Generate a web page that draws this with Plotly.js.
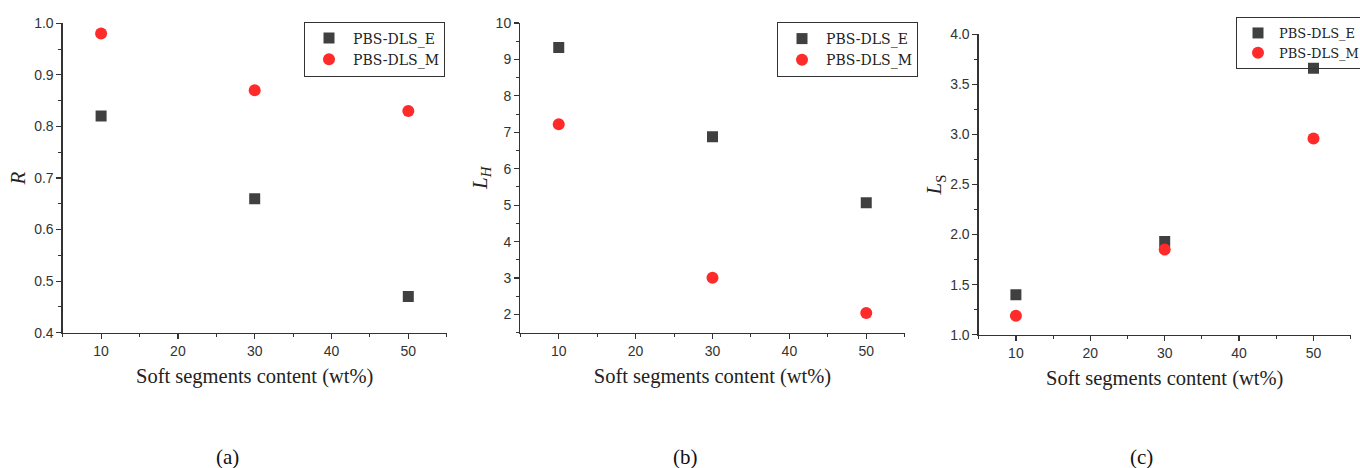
<!DOCTYPE html>
<html>
<head>
<meta charset="utf-8">
<script src="https://cdn.plot.ly/plotly-3.0.1.min.js"></script>
<style>html,body{margin:0;padding:0;background:#fff}#chart{width:1360px;height:468px}</style>
</head>
<body>
<div id="chart"></div>
<script>
// ---- data ----
const softContent = [10, 30, 50];
const seriesNames = ["PBS-DLS_E", "PBS-DLS_M"];
const R_E = [0.82, 0.66, 0.47];
const R_M = [0.98, 0.87, 0.83];
const LH_E = [9.33, 6.88, 5.07];
const LH_M = [7.22, 3.01, 2.04];
const LS_E = [1.40, 1.93, 3.66];
const LS_M = [1.19, 1.85, 2.96];
const xTitle = "Soft segments content (wt%)";
const yTitles = ["<i>R</i>", "<i>L</i><sub><i>H</i></sub>", "<i>L</i><sub>S</sub>"];
const panelLabels = ["(a)", "(b)", "(c)"];

const W = 1360, H = 468;
const SERIF = "Liberation Serif, Times New Roman, serif";
const LEGSERIF = "DejaVu Serif, serif";
const SANS = "Liberation Sans, Arial, sans-serif";
const sqMarker = {symbol: "square", size: 11, color: "#404040"};
const ciMarker = {symbol: "circle", size: 12, color: "#ff2a2a"};

const panels = [
  {E: R_E, M: R_M, px: [62.7, 446.7], py: [23.3, 332.7], yr: [0.4, 1.0], dtick: 0.1, minor: 0.05, fmt: ".1f",
   leg: {x: 304, y: 21.5, fs: 14, iw: 38}, lab: 228},
  {E: LH_E, M: LH_M, px: [520.3, 904.7], py: [23, 332.7], yr: [1.5, 10], dtick: 1, minor: 0.5, fmt: "d",
   leg: {x: 777, y: 22, fs: 14, iw: 38}, tick0: 2, lab: 685},
  {E: LS_E, M: LS_M, px: [978.7, 1350.7], py: [34.3, 334.7], yr: [1.0, 4.0], dtick: 0.5, minor: 0.25, fmt: ".1f",
   leg: {x: 1236, y: 17, fs: 13, iw: 32}, lab: 1141}
];

const traces = [];
const layout = {
  width: W, height: H,
  margin: {l: 0, r: 0, t: 0, b: 0, autoexpand: false},
  paper_bgcolor: "#fff", plot_bgcolor: "#fff",
  showlegend: true,
  annotations: []
};

panels.forEach((p, i) => {
  const n = i === 0 ? "" : String(i + 1);
  const xa = "x" + n, ya = "y" + n;
  const legName = "legend" + n;
  traces.push({x: softContent, y: p.E, type: "scatter", mode: "markers", name: seriesNames[0],
    marker: sqMarker, xaxis: xa, yaxis: ya, legend: legName});
  traces.push({x: softContent, y: p.M, type: "scatter", mode: "markers", name: seriesNames[1],
    marker: ciMarker, xaxis: xa, yaxis: ya, legend: legName});

  const axCommon = {
    showgrid: false, zeroline: false, showline: true, linecolor: "#333", linewidth: 1.3,
    ticks: "outside", ticklen: 5, tickwidth: 1.2, tickcolor: "#333",
    tickfont: {family: SANS, size: 14, color: "#333"}
  };
  layout["xaxis" + n] = Object.assign({}, axCommon, {
    domain: [p.px[0] / W, p.px[1] / W], anchor: ya,
    range: [5, 55], tick0: 10, dtick: 10,
    minor: {dtick: 5, ticks: "outside", ticklen: 3, tickcolor: "#333", tickwidth: 1},
    title: {text: xTitle, font: {family: SERIF, size: 20.5, color: "#222"}, standoff: 11}
  });
  layout["yaxis" + n] = Object.assign({}, axCommon, {
    domain: [1 - p.py[1] / H, 1 - p.py[0] / H], anchor: xa,
    range: p.yr, dtick: p.dtick, tick0: p.tick0 !== undefined ? p.tick0 : p.yr[0], tickformat: p.fmt,
    minor: {dtick: p.minor, ticks: "outside", ticklen: 3, tickcolor: "#333", tickwidth: 1},
    title: {text: yTitles[i], font: {family: SERIF, size: 21, color: "#222"}, standoff: 2}
  });
  layout[legName] = {
    x: p.leg.x / W, y: 1 - p.leg.y / H, xanchor: "left", yanchor: "top",
    bgcolor: "rgba(255,255,255,0)", bordercolor: "#333", borderwidth: 1,
    font: {family: LEGSERIF, size: p.leg.fs, color: "#222"}, itemwidth: p.leg.iw, tracegroupgap: 0
  };
  layout.annotations.push({
    text: panelLabels[i], xref: "paper", yref: "paper",
    x: p.lab / W, y: 1 - 457 / H,
    xanchor: "center", yanchor: "middle", showarrow: false,
    font: {family: SERIF, size: 21, color: "#111"}
  });
});

Plotly.newPlot("chart", traces, layout, {displayModeBar: false, staticPlot: true});
</script>
</body>
</html>
